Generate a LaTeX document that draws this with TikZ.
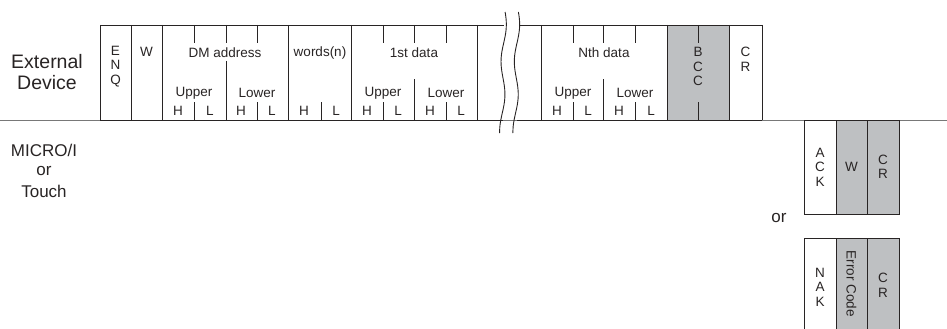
\documentclass[tikz,border=0pt]{standalone}
\usepackage{fontspec}
\setmainfont{Liberation Sans}
\definecolor{cellgray}{RGB}{190,192,194}
\definecolor{linegray}{RGB}{120,120,120}
\definecolor{ink}{RGB}{40,36,36}
\tikzset{
  frm/.style={draw=ink, line width=0.9pt},
  shade/.style={fill=cellgray},
  sm/.style={font=\fontsize{13.5}{14.5}\selectfont, inner sep=0pt, align=center, text=ink},
  big/.style={font=\fontsize{19.5}{21}\selectfont, inner sep=0pt, align=center, text=ink},
  mid/.style={font=\fontsize{17}{20}\selectfont, inner sep=0pt, align=center, text=ink},
}
\begin{document}
\begin{tikzpicture}[x=1pt,y=-1pt]
\useasboundingbox (0,0) rectangle (947,329);
% base line
\draw[linegray, line width=0.9pt] (0,120) -- (947,120);
% gray cells
\fill[shade] (667,25) rectangle (729,120);
\fill[shade] (836,120) rectangle (899,214);
\fill[shade] (836,238) rectangle (899,329);
% frame top/bottom
\draw[frm] (100,25) -- (504,25);
\draw[frm] (519,25) -- (762,25);
\draw[frm] (100,120) -- (503,120);
\draw[frm] (517,120) -- (762,120);
% main verticals
\foreach \x in {100,131,162,288,351,477,541,667,729,762}
  \draw[frm] (\x,25) -- (\x,120);
% top ticks
\foreach \x in {194,226,257,383,414,446,573,603,635,698}
  \draw[frm] (\x,25) -- (\x,43);
% bottom ticks
\foreach \x in {194,257,321,383,446,573,635,698}
  \draw[frm] (\x,102) -- (\x,120);
% middle dividers
\draw[frm] (226,61) -- (226,120);
\draw[frm] (414,79) -- (414,120);
\draw[frm] (603,79) -- (603,120);
% break marks
\draw[frm] plot[smooth, samples=40, domain=12:133] ({504.3+2.3*sin(5.142857*(\x-8))-0.02*(\x-12)}, \x);
\draw[frm] plot[smooth, samples=40, domain=12:133] ({517.6+2.3*sin(5.142857*(\x-8))-0.02*(\x-12)}, \x);
% response boxes
\draw[frm] (804,120) rectangle (899,214);
\draw[frm] (836,120) -- (836,214);
\draw[frm] (867,120) -- (867,214);
\draw[frm] (804,329) -- (804,238) -- (899,238) -- (899,329);
\draw[frm] (836,238) -- (836,329);
\draw[frm] (867,238) -- (867,329);
% left labels
\node[big] (ext) at (47,62) {External};
\node[big] (dev) at (47,83) {Device};
\node[mid] (micro) at (44,150) {MICRO/I};
\node[mid] (or1) at (44,171) {or};
\node[mid] (touch) at (44,191) {Touch};
% field labels
\node[sm] (enq) at (115.5,66.5) {E\\N\\Q};
\node[sm] (w) at (146.5,52) {W};
\node[sm] (dm) at (225,53) {DM address};
\node[sm] (wn) at (320,53) {words(n)};
\node[sm] (d1) at (414,53) {1st data};
\node[sm] (dn) at (604,53) {Nth data};
\node[sm] (bcc) at (698,66.5) {B\\C\\C};
\node[sm] (cr1) at (745.5,59.5) {C\\R};
\node[sm] (u1) at (194,93) {Upper};
\node[sm] (l1) at (257,93) {Lower};
\node[sm] (u2) at (383,93) {Upper};
\node[sm] (l2) at (446,93) {Lower};
\node[sm] (u3) at (573,93) {Upper};
\node[sm] (l3) at (635,93) {Lower};
\foreach \x/\t [count=\i] in {178/H,210/L,241/H,272/L,304/H,336/L,367/H,398/L,430/H,461/L,557/H,588/L,619/H,651/L}
  \node[sm] (hl\i) at (\x,111) {\t};
% responses
\node[sm] (ack) at (820,167) {A\\C\\K};
\node[sm] (w2) at (851.5,167) {W};
\node[sm] (cr2) at (883,167) {C\\R};
\node[mid] (or2) at (779,218) {or};
\node[sm] (nak) at (820,287) {N\\A\\K};
\node[sm, rotate=-90] (err) at (851.5,284) {Error Code};
\node[sm] (cr3) at (883,285.5) {C\\R};
\end{tikzpicture}
\end{document}
